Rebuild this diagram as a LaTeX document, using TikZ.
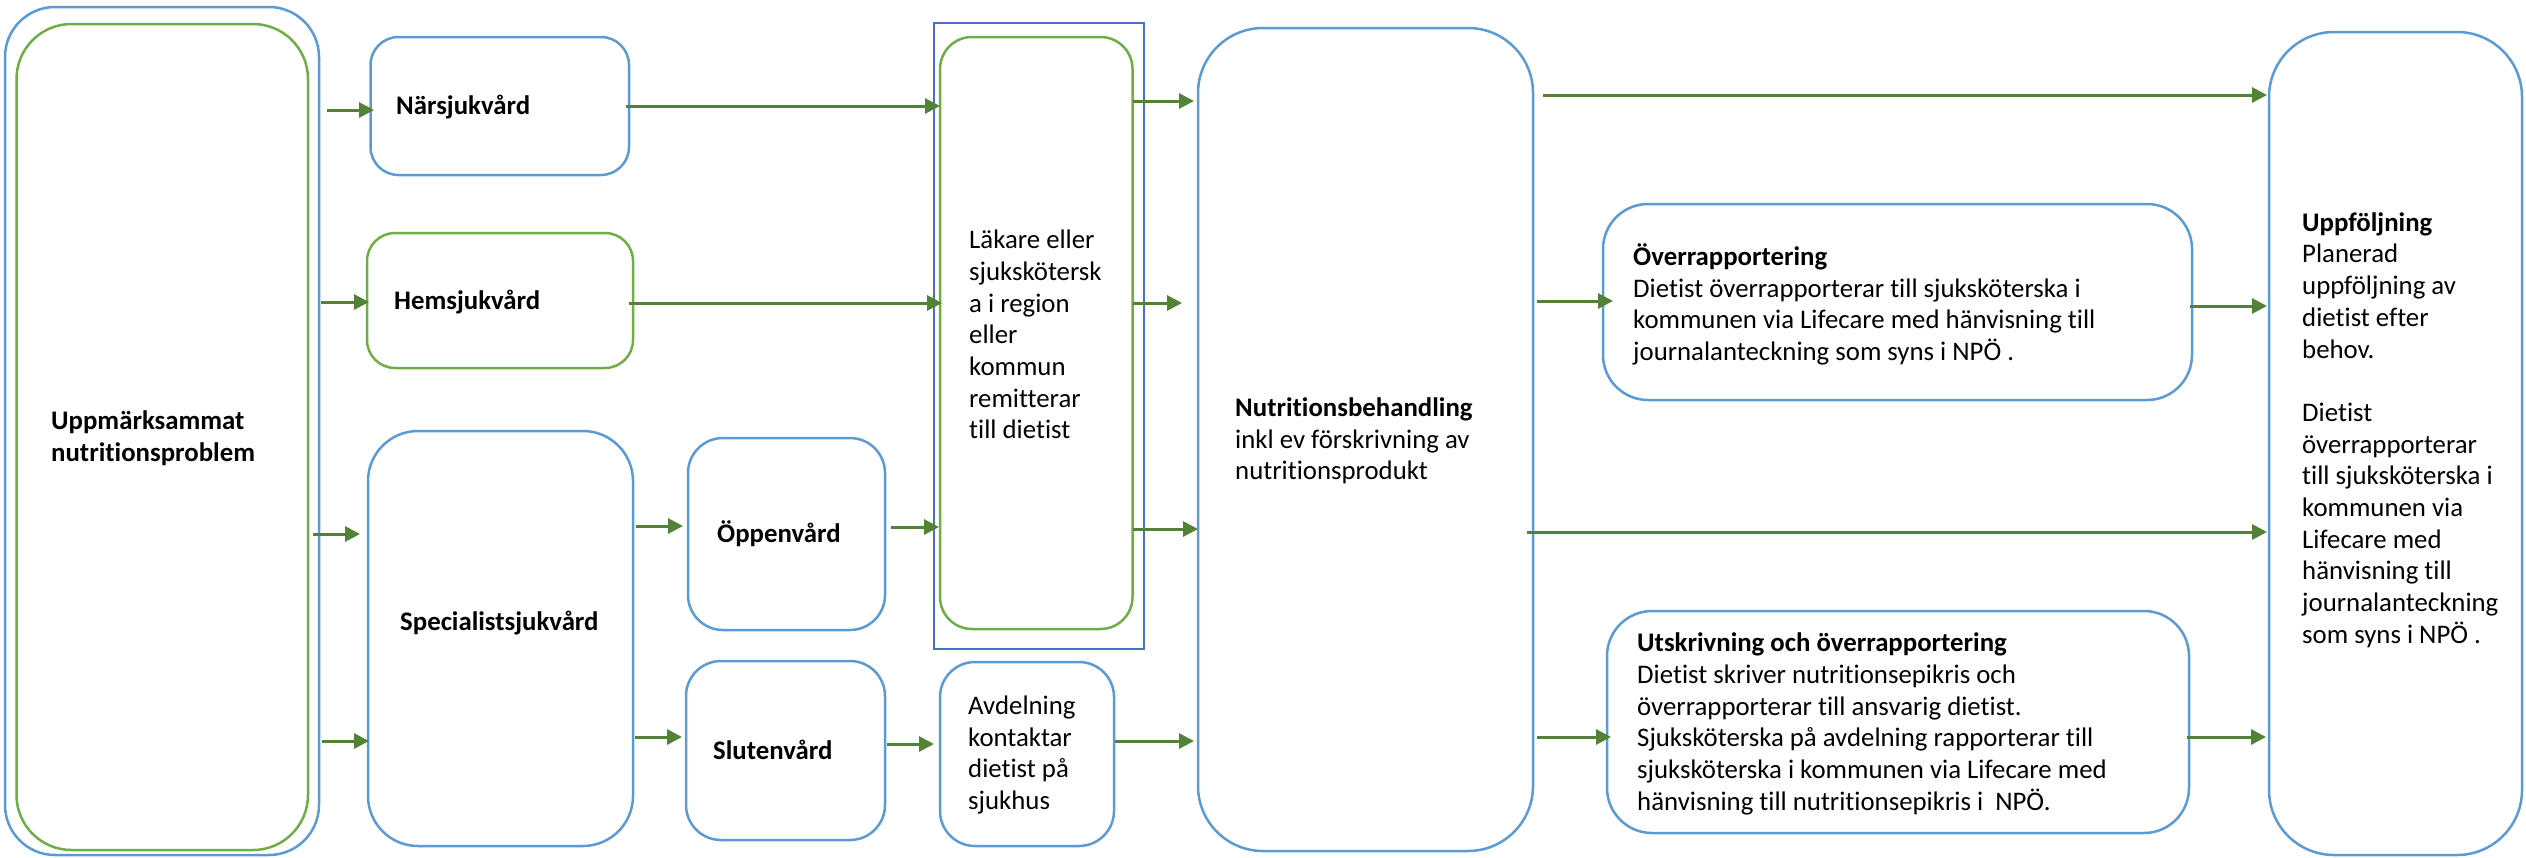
\documentclass[tikz,border=0pt]{standalone}
\usepackage{fontspec}
\setmainfont{Carlito}[Ligatures={NoCommon}]
\usetikzlibrary{arrows.meta,calc}
\definecolor{boxblue}{HTML}{5B9BD5}
\definecolor{boxgreen}{HTML}{70AD47}
\definecolor{frameblue}{HTML}{4472C4}
\definecolor{arrgreen}{HTML}{538135}
\begin{document}
\begin{tikzpicture}[x=1pt,y=-1pt,
  box/.style={draw, line width=2.5pt, anchor=north west, inner sep=0pt, outer sep=0pt},
  bluebox/.style={box, draw=boxblue},
  greenbox/.style={box, draw=boxgreen},
  txt/.style={anchor=west, align=left, inner sep=0pt, font=\fontsize{26.8}{31.7}\selectfont},
  arr/.style={draw=arrgreen, line width=3pt, -{Triangle[length=15pt,width=15pt]}}]
\useasboundingbox (0,0) rectangle (2526,857);
% boxes
\node[bluebox, rounded corners=50pt, minimum width=314pt, minimum height=848pt] (outer) at (5,7) {};
\node[greenbox, rounded corners=55pt, minimum width=291.5pt, minimum height=826pt] (inner) at (16.5,24) {};
\node[bluebox, rounded corners=28pt, minimum width=258.5pt, minimum height=138pt] (nars) at (370.5,37) {};
\node[greenbox, rounded corners=28pt, minimum width=266pt, minimum height=135pt] (hems) at (367,233) {};
\node[bluebox, rounded corners=50pt, minimum width=265pt, minimum height=415pt] (spec) at (368,431) {};
\node[bluebox, rounded corners=35pt, minimum width=197pt, minimum height=192pt] (oppen) at (688,438) {};
\node[bluebox, rounded corners=35pt, minimum width=199pt, minimum height=179pt] (sluten) at (686,661) {};
\node[box, draw=frameblue, minimum width=210pt, minimum height=626pt] (frame) at (934,23) {};
\node[greenbox, rounded corners=32pt, minimum width=192.5pt, minimum height=592pt] (lak) at (940,37) {};
\node[bluebox, rounded corners=35pt, minimum width=174pt, minimum height=184pt] (avd) at (940,662) {};
\node[bluebox, rounded corners=65pt, minimum width=335pt, minimum height=823pt] (nutr) at (1198,28) {};
\node[bluebox, rounded corners=45pt, minimum width=589pt, minimum height=196pt] (over) at (1603,204) {};
\node[bluebox, rounded corners=45pt, minimum width=582pt, minimum height=222pt] (utsk) at (1607,611) {};
\node[bluebox, rounded corners=65pt, minimum width=253pt, minimum height=823pt] (uppf) at (2269,32) {};
% texts
\node[txt] (tupp) at (51,438.5) {\textbf{Uppmärksammat}\\\textbf{nutritionsproblem}};
\node[txt] (tnars) at (396,107) {\textbf{Närsjukvård}};
\node[txt] (thems) at (394,302) {\textbf{Hemsjukvård}};
\node[txt] (tspec) at (400,623) {\textbf{Specialistsjukvård}};
\node[txt] (toppen) at (717,534) {\textbf{Öppenvård}};
\node[txt] (tsluten) at (713,750) {\textbf{Slutenvård}};
\node[txt] (tlak) at (969,334.5) {Läkare eller\\sjukskötersk\\a i region\\eller\\kommun\\remitterar\\till dietist};
\node[txt] (tavd) at (968,755) {Avdelning\\kontaktar\\dietist på\\sjukhus};
\node[txt] (tnutr) at (1235,441) {\textbf{Nutritionsbehandling}\\inkl ev förskrivning av\\nutritionsprodukt};
\node[txt] (tover) at (1633,304.5) {\textbf{Överrapportering}\\Dietist överrapporterar till sjuksköterska i\\kommunen via Lifecare med hänvisning till\\journalanteckning som syns i NPÖ .};
\node[txt] (tutsk) at (1637,724) {\textbf{Utskrivning och överrapportering}\\Dietist skriver nutritionsepikris och\\överrapporterar till ansvarig dietist.\\Sjuksköterska på avdelning rapporterar till\\sjuksköterska i kommunen via Lifecare med\\hänvisning till nutritionsepikris i\ \ NPÖ.};
\node[txt] (tuppf) at (2302,430) {\textbf{Uppföljning}\\Planerad\\uppföljning av\\dietist efter\\behov.\\\mbox{}\\Dietist\\överrapporterar\\till sjuksköterska i\\kommunen via\\Lifecare med\\hänvisning till\\journalanteckning\\som syns i NPÖ .};
% connectors
\draw[arr] ($(outer.east|-0,110)+(8,0)$) -- ($(nars.west|-0,110)+(3.5,0)$);
\draw[arr] ($(outer.east|-0,302)+(2,0)$) -- ($(hems.west|-0,302)+(2,0)$);
\draw[arr] ($(outer.east|-0,534)+(-6,0)$) -- ($(spec.west|-0,534)+(-8,0)$);
\draw[arr] ($(outer.east|-0,741)+(3,0)$) -- ($(spec.west|-0,741)+(1,0)$);
\draw[arr] ($(nars.east|-0,106)+(-3,0)$) -- (lak.west|-0,106);
\draw[arr] ($(hems.east|-0,303)+(-4,0)$) -- ($(lak.west|-0,303)+(2,0)$);
\draw[arr] ($(spec.east|-0,526)+(3,0)$) -- ($(oppen.west|-0,526)+(-5,0)$);
\draw[arr] ($(spec.east|-0,737)+(2,0)$) -- ($(sluten.west|-0,737)+(-4,0)$);
\draw[arr] ($(oppen.east|-0,527)+(6,0)$) -- ($(lak.west|-0,527)+(-1,0)$);
\draw[arr] ($(sluten.east|-0,744)+(2,0)$) -- ($(avd.west|-0,744)+(-6,0)$);
\draw[arr] (lak.east|-0,101) -- ($(nutr.west|-0,101)+(-4,0)$);
\draw[arr] (lak.east|-0,303) -- ($(nutr.west|-0,303)+(-16,0)$);
\draw[arr] (lak.east|-0,529) -- (nutr.west|-0,529);
\draw[arr] ($(avd.east|-0,741)+(1,0)$) -- ($(nutr.west|-0,741)+(-4,0)$);
\draw[arr] ($(nutr.east|-0,95)+(10,0)$) -- ($(uppf.west|-0,95)+(-2,0)$);
\draw[arr] ($(nutr.east|-0,301)+(4,0)$) -- ($(over.west|-0,301)+(10,0)$);
\draw[arr] ($(nutr.east|-0,532)+(-6,0)$) -- ($(uppf.west|-0,532)+(-2,0)$);
\draw[arr] ($(nutr.east|-0,737)+(4,0)$) -- ($(utsk.west|-0,737)+(4,0)$);
\draw[arr] ($(over.east|-0,306)+(-2,0)$) -- ($(uppf.west|-0,306)+(-2,0)$);
\draw[arr] ($(utsk.east|-0,737)+(-2,0)$) -- ($(uppf.west|-0,737)+(-3,0)$);
\end{tikzpicture}
\end{document}
